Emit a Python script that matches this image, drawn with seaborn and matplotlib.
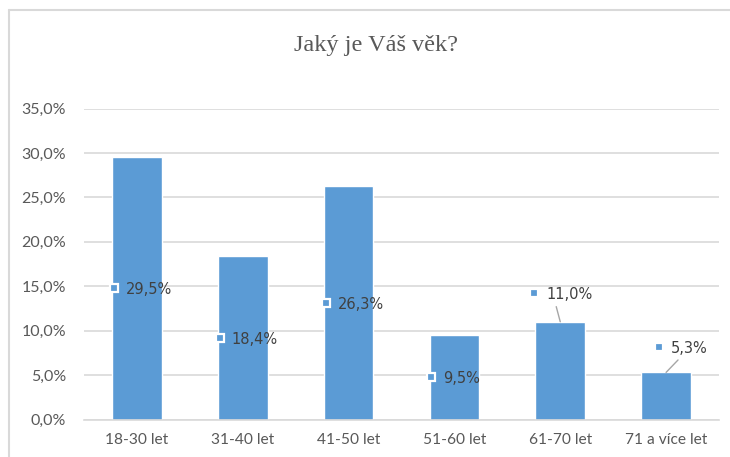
import numpy as np
import matplotlib
matplotlib.use("Agg")
import matplotlib.pyplot as plt
from matplotlib.lines import Line2D
from matplotlib.transforms import offset_copy
import seaborn as sns

ages = ["18-30 let", "31-40 let", "41-50 let", "51-60 let", "61-70 let", "71 a více let"]
values = [29.5, 18.4, 26.3, 9.5, 11.0, 5.3]
y_ticks = [0, 5, 10, 15, 20, 25, 30, 35]

# label placement: None = centred inside the bar, else (y in %, x shift px)
label_override = [None, None, None, None, (14.2, -3), (8.2, 16)]
# leader lines for the moved labels: (x offset in category units, y in %)
leader_start = [None, None, None, None, (-0.038, 12.7), (0.113, 6.7)]

blue = "#5B9BD5"
grid_c = "#D9D9D9"
txt_c = "#595959"

sns.set_style("white")
plt.rcParams["font.family"] = ["Lato", "DejaVu Sans"]

fig = plt.figure(figsize=(7.3, 4.57), dpi=100)
ax = fig.add_axes([84 / 730, 37.5 / 457, 635 / 730, 311 / 457])

sns.barplot(x=ages, y=values, color=blue, saturation=1, width=0.47, ax=ax, zorder=2)

ax.set_ylim(0, 35)
ax.set_xlim(-0.5, len(ages) - 0.5)
ax.set_yticks(y_ticks)
ax.set_yticklabels([f"{v:.1f}".replace(".", ",") + "%" for v in y_ticks])
ax.yaxis.grid(True, color=grid_c, lw=1.2)
ax.set_axisbelow(True)
for s in ["top", "right", "left"]:
    ax.spines[s].set_visible(False)
ax.spines["bottom"].set_color(grid_c)
ax.spines["bottom"].set_linewidth(1.2)
ax.tick_params(axis="y", length=0, pad=13, labelsize=11.5, labelcolor=txt_c)
ax.tick_params(axis="x", which="major", length=0, pad=10, labelsize=11.2, labelcolor=txt_c)
ax.set_xticks(np.arange(-0.5, len(ages)), minor=True)
ax.tick_params(axis="x", which="minor", length=5, color=grid_c, width=1.2)
ax.set_xlabel("")
ax.set_ylabel("")

for i, v in enumerate(values):
    if label_override[i] is None:
        ly, dx = v / 2, 0
    else:
        ly, dx = label_override[i]
    key_tr = offset_copy(ax.transData, fig=fig, x=dx - 23, y=0, units="dots")
    txt_tr = offset_copy(ax.transData, fig=fig, x=dx - 11, y=0, units="dots")
    ax.plot([i], [ly], marker="s", ms=6, mfc=blue, mec="white", mew=1.6,
            transform=key_tr, zorder=4, clip_on=False)
    ax.text(i, ly, f"{v:.1f}".replace(".", ",") + "%", transform=txt_tr,
            ha="left", va="center_baseline", fontsize=10.5,
            family="DejaVu Sans", color="#404040", zorder=4)
    if leader_start[i] is not None:
        x0, y0 = leader_start[i]
        ax.plot([i + x0, i], [y0, v], color="#A6A6A6", lw=1, zorder=3)

fig.text(376 / 730, 1 - 46 / 457, "Jaký je Váš věk?", ha="center", va="center",
         fontsize=17.5, family="Liberation Serif", color=txt_c)

fig.add_artist(Line2D([9 / 730, 1], [1 - 10 / 457] * 2, color=grid_c, lw=1.5))
fig.add_artist(Line2D([9 / 730] * 2, [0, 1 - 10 / 457], color=grid_c, lw=1.5))

fig.savefig("out.png", dpi=100)
